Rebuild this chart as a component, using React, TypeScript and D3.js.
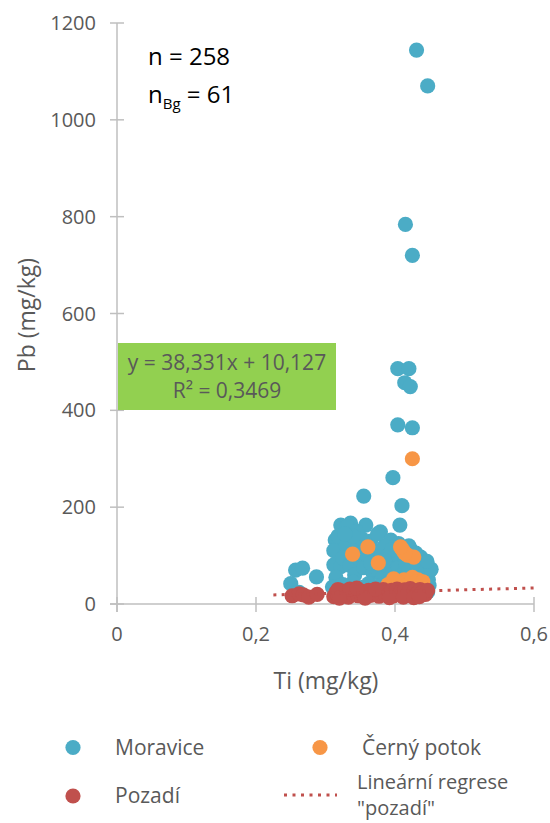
import React from "react";
import * as d3 from "d3";

const xTicks = [0, 0.2, 0.4, 0.6];
const yTicks = [0, 200, 400, 600, 800, 1000, 1200];

const moravice: [number, number][] = [
  [0.431, 1144], [0.447, 1070], [0.415, 784], [0.425, 720], [0.404, 486], [0.420, 486],
  [0.414, 457], [0.422, 449], [0.404, 370], [0.425, 364], [0.397, 261], [0.355, 223],
  [0.410, 203], [0.407, 163],
  [0.257, 70], [0.267, 74], [0.250, 42], [0.287, 56], [0.262, 24],
  [0.322, 163], [0.336, 167], [0.331, 160], [0.358, 163], [0.345, 150], [0.379, 149],
  [0.394, 132], [0.314, 132], [0.318, 140], [0.312, 110], [0.330, 120], [0.347, 118],
  [0.365, 130], [0.372, 110], [0.385, 120], [0.390, 100], [0.400, 95], [0.423, 112],
  [0.437, 97], [0.451, 70], [0.441, 43], [0.445, 30], [0.312, 81], [0.322, 77],
  [0.315, 55], [0.325, 95], [0.335, 80], [0.342, 60], [0.350, 90], [0.355, 75],
  [0.360, 100], [0.368, 65], [0.375, 70], [0.382, 55], [0.388, 80], [0.395, 60],
  [0.405, 75], [0.410, 60], [0.415, 85], [0.420, 70], [0.428, 60], [0.432, 80],
  [0.438, 55], [0.443, 65], [0.448, 50], [0.310, 35], [0.318, 28], [0.325, 40],
  [0.332, 25], [0.340, 45], [0.348, 30], [0.355, 35], [0.362, 42], [0.370, 28],
  [0.378, 38], [0.385, 30], [0.392, 44], [0.398, 32], [0.405, 40], [0.412, 28],
  [0.418, 36], [0.425, 30], [0.432, 40], [0.440, 35], [0.447, 25], [0.420, 120],
  [0.405, 125], [0.375, 145], [0.395, 112], [0.352, 135], [0.340, 140], [0.328, 145],
  [0.365, 85], [0.385, 90], [0.449, 38], [0.452, 72], [0.446, 88], [0.430, 105],
];

const cernyPotok: [number, number][] = [
  [0.425, 300], [0.339, 103], [0.361, 118], [0.376, 85], [0.411, 112], [0.418, 101],
  [0.427, 97], [0.414, 105], [0.408, 118], [0.398, 52], [0.413, 50], [0.433, 50],
  [0.405, 45], [0.420, 42], [0.425, 55], [0.390, 40], [0.435, 40], [0.430, 45],
  [0.410, 38], [0.400, 48], [0.440, 46],
];

const pozadi: [number, number][] = [
  [0.252, 17], [0.262, 21], [0.268, 19], [0.276, 14], [0.288, 20], [0.312, 15],
  [0.315, 24], [0.318, 19], [0.322, 27], [0.326, 18], [0.330, 22], [0.333, 14],
  [0.337, 25], [0.340, 20], [0.343, 29], [0.347, 17], [0.350, 23], [0.353, 26],
  [0.356, 15], [0.359, 21], [0.362, 28], [0.365, 18], [0.368, 24], [0.371, 20],
  [0.374, 27], [0.377, 16], [0.380, 22], [0.383, 30], [0.386, 19], [0.389, 25],
  [0.392, 21], [0.395, 28], [0.398, 17], [0.400, 24], [0.403, 31], [0.406, 20],
  [0.409, 26], [0.411, 22], [0.414, 29], [0.417, 18], [0.420, 25], [0.422, 32],
  [0.425, 21], [0.428, 27], [0.430, 19], [0.433, 24], [0.436, 30], [0.438, 22],
  [0.441, 26], [0.444, 20], [0.447, 28], [0.318, 30], [0.335, 31], [0.357, 12],
  [0.372, 31], [0.392, 13], [0.412, 14], [0.427, 13], [0.435, 15], [0.320, 12],
  [0.345, 33],
];

const trendSlope = 38.331;
const trendIntercept = 10.127;
const trendRange = [0.225, 0.6];

const FONT = "'Open Sans', sans-serif";
const TXT = "#595959";
const AXIS = "#BFBFBF";
const C_MOR = "#4BACC6";
const C_CER = "#F79646";
const C_POZ = "#C0504D";

export default function App() {
  const x = d3.scaleLinear().domain([0, 0.6]).range([117, 534]);
  const y = d3.scaleLinear().domain([0, 1200]).range([604, 23]);
  const r = 7.6;
  const fmt = (v: number) => String(v).replace(".", ",");
  const trendLine = d3
    .line<number>()
    .x((d) => x(d))
    .y((d) => y(trendSlope * d + trendIntercept));

  return (
    <svg
      width={550}
      height={823}
      style={{ position: "absolute", left: 0, top: 0, background: "#fff" }}
      fontFamily={FONT}
    >
      {/* axes */}
      <line x1={x(0)} x2={x(0)} y1={y(1200)} y2={y(0) + 8} stroke={AXIS} strokeWidth={1.5} />
      <line x1={x(0) - 7} x2={x(0.6)} y1={y(0)} y2={y(0)} stroke={AXIS} strokeWidth={1.5} />
      {yTicks.map((t) => (
        <g key={"y" + t}>
          <line x1={x(0) - 7} x2={x(0) + 7} y1={y(t)} y2={y(t)} stroke={AXIS} strokeWidth={1.5} />
          <text x={96} y={y(t)} dy="0.35em" textAnchor="end" fontSize={20} fill={TXT}>
            {t}
          </text>
        </g>
      ))}
      {xTicks.map((t) => (
        <g key={"x" + t}>
          <line x1={x(t)} x2={x(t)} y1={y(0) - 7} y2={y(0) + 8} stroke={AXIS} strokeWidth={1.5} />
          <text x={x(t)} y={641} textAnchor="middle" fontSize={20} fill={TXT}>
            {fmt(t)}
          </text>
        </g>
      ))}
      <text x={326} y={689} textAnchor="middle" fontSize={23} fill={TXT}>
        Ti (mg/kg)
      </text>
      <text
        transform={`translate(35,315) rotate(-90)`}
        textAnchor="middle"
        fontSize={23}
        fill={TXT}
      >
        Pb (mg/kg)
      </text>

      {/* points */}
      {moravice.map((d, i) => (
        <circle key={"m" + i} cx={x(d[0])} cy={y(d[1])} r={r} fill={C_MOR} />
      ))}
      {cernyPotok.map((d, i) => (
        <circle key={"c" + i} cx={x(d[0])} cy={y(d[1])} r={r} fill={C_CER} />
      ))}
      {pozadi.map((d, i) => (
        <circle key={"p" + i} cx={x(d[0])} cy={y(d[1])} r={r} fill={C_POZ} />
      ))}
      <path
        d={trendLine(trendRange) || ""}
        fill="none"
        stroke={C_POZ}
        strokeWidth={3}
        strokeDasharray="3 5.3"
      />

      {/* annotations */}
      <text x={148} y={65} fontSize={24} fill="#000">
        n = 258
      </text>
      <text x={148} y={103} fontSize={24} fill="#000">
        n
        <tspan fontSize={15} dy={6}>Bg</tspan>
        <tspan dy={-6}> = 61</tspan>
      </text>

      <rect x={118} y={343} width={218} height={67} fill="#92D050" />
      <text x={227} y={370} textAnchor="middle" fontSize={21} fill={TXT}>
        y = 38,331x + 10,127
      </text>
      <text x={227} y={398} textAnchor="middle" fontSize={21} fill={TXT}>
        R² = 0,3469
      </text>

      {/* legend */}
      <circle cx={73} cy={747.5} r={r} fill={C_MOR} />
      <text x={115} y={755} fontSize={21} fill={TXT}>
        Moravice
      </text>
      <circle cx={320} cy={747.5} r={r} fill={C_CER} />
      <text x={362} y={755} fontSize={21} fill={TXT}>
        Černý potok
      </text>
      <circle cx={73} cy={796} r={r} fill={C_POZ} />
      <text x={115} y={803} fontSize={21} fill={TXT}>
        Pozadí
      </text>
      <line
        x1={284}
        x2={337}
        y1={795}
        y2={795}
        stroke={C_POZ}
        strokeWidth={3}
        strokeDasharray="3 5.5"
      />
      <text x={357} y={789} fontSize={20} fill={TXT}>
        Lineární regrese
      </text>
      <text x={357} y={815} fontSize={20} fill={TXT}>
        "pozadí"
      </text>
    </svg>
  );
}
